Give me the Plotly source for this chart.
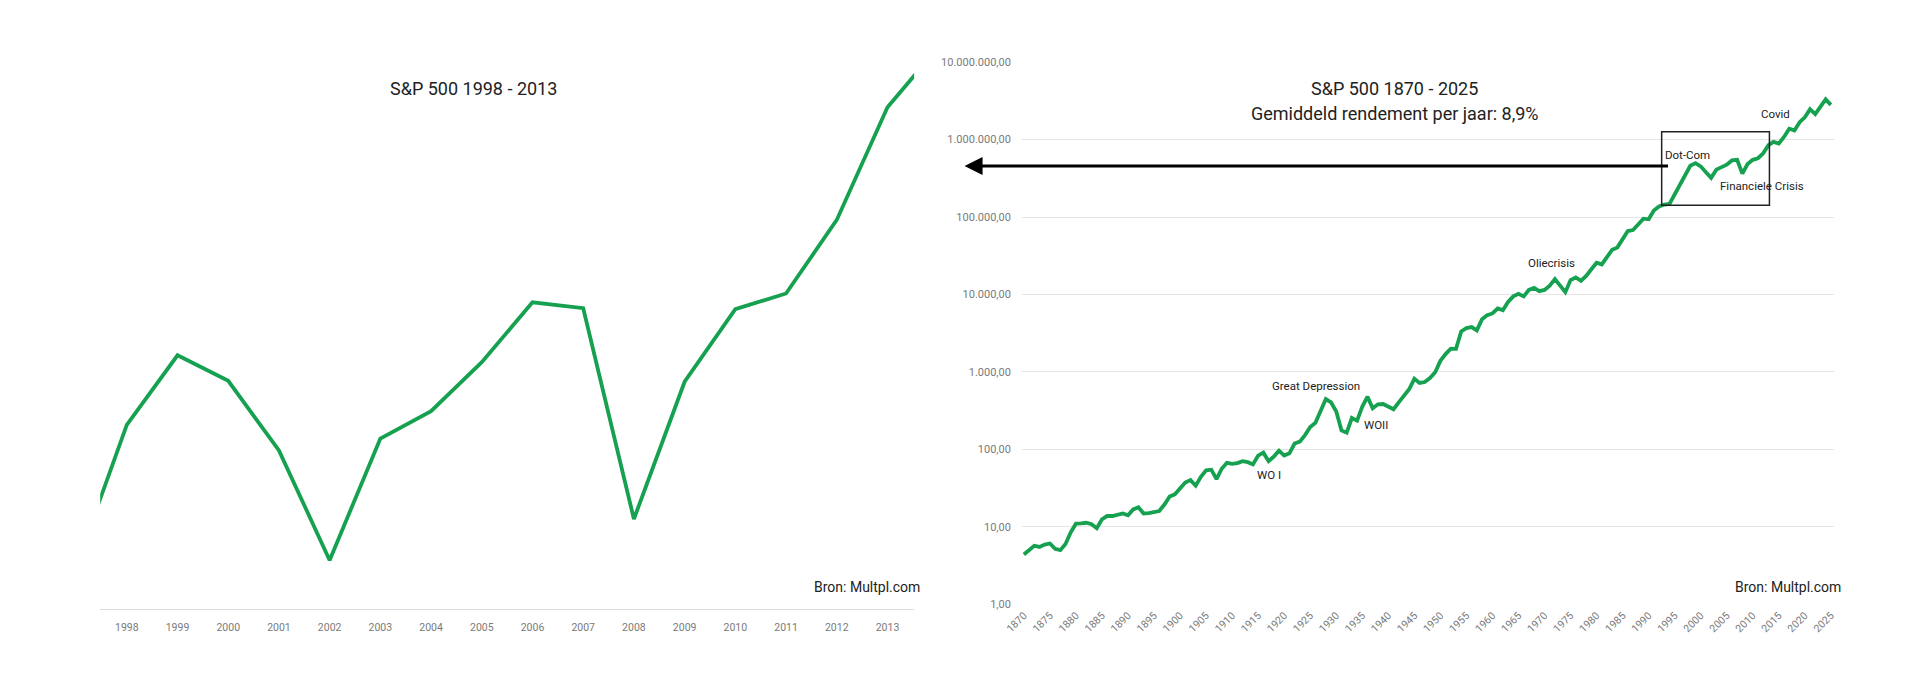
import plotly.graph_objects as go

# --- left chart: S&P 500 1998 - 2013 (no y scale shown, relative units) ---
short_years = list(range(1997, 2015))
short_values = [44, 188, 259, 233, 162, 50, 174, 202, 252, 313,
                307, 92, 232, 306, 322, 397, 512, 573]
short_ticks = list(range(1998, 2014))

# --- right chart: S&P 500 1870 - 2025, log scale ---
long_years = list(range(1870, 2026))
long_values = [
    # 1870 - 1879
    4.4, 5.1, 5.7, 5.5, 5.9, 6.1, 5.2, 5.0, 6.0, 8.5,
    # 1880 - 1889
    11.0, 11.1, 11.3, 10.8, 9.6, 12.5, 13.8, 13.8, 14.2, 14.9,
    # 1890 - 1899
    14.1, 16.8, 17.9, 14.9, 15.0, 15.5, 16.0, 19.4, 24.7, 26.3,
    # 1900 - 1909
    31.4, 37.4, 40.1, 34.0, 44.2, 53.7, 54.7, 41.3, 56.3, 67.1,
    # 1910 - 1919
    65.2, 66.5, 70.5, 68.4, 64.0, 83.2, 90.8, 70.5, 80.8, 96.2,
    # 1920 - 1929
    83.2, 89.0, 119, 126, 153, 195, 220, 309, 446, 405,
    # 1930 - 1939
    309, 176, 164, 254, 235, 357, 478, 340, 382, 385,
    # 1940 - 1949
    357, 330, 405, 492, 597, 815, 720, 740, 832, 991,
    # 1950 - 1959
    1390, 1700, 2000, 1990, 3335, 3675, 3790, 3435, 4780, 5420,
    # 1960 - 1969
    5690, 6590, 6270, 7990, 9440, 10210, 9440, 11460, 12140, 11020,
    # 1970 - 1979
    11460, 13000, 15790, 13000, 10700, 15350, 16560, 15030, 17400, 21150,
    # 1980 - 1989
    25650, 24440, 31170, 37870, 40540, 50700, 65900, 67800, 79930, 95250,
    # 1990 - 1999
    93400, 121600, 136600, 144900, 147600, 197400, 264000, 353300, 459400, 496800,
    # 2000 - 2009
    450800, 378500, 320600, 409000, 442300, 473100, 537500, 547600, 363900, 482700,
    # 2010 - 2019
    547600, 574500, 664800, 847300, 933000, 889000, 1081000, 1377000, 1312000, 1675000,
    # 2020 - 2025
    1937000, 2468000, 2133000, 2719000, 3304000, 2800000,
]
long_ticks = list(range(1870, 2026, 5))
log_tickvals = [1, 10, 100, 1000, 10000, 100000, 1000000, 10000000]
log_ticktext = ["1,00", "10,00", "100,00", "1.000,00", "10.000,00",
                "100.000,00", "1.000.000,00", "10.000.000,00"]

# events written on the long chart: (text, x px, y px)
events = [
    ("WO I", 1265, 478),
    ("Great Depression", 1312, 387),
    ("WOII", 1373, 427),
    ("Oliecrisis", 1551, 262),
    ("Dot-Com", 1688, 152),
    ("Financiele Crisis", 1763, 183),
    ("Covid", 1777, 110),
]
# box around 1992 - 2013 (data units)
box_x = (1992.5, 2013.2)
box_y = (141900, 1260000)

# the page body keeps its default 8px margin, so the figure is made
# 16px smaller and every pixel position is shifted by that margin
PAGE_W, PAGE_H, BODY = 1920, 688, 8
W, H = PAGE_W - 2 * BODY, PAGE_H - 2 * BODY
GREEN = "#16a150"
FONT = "Roboto"
TXT = "#222222"
TICK = "#7a7a7a"


def px(x):
    return (x - BODY) / W


def py(y):
    return 1 - (y - BODY) / H


fig = go.Figure()

fig.add_trace(go.Scatter(
    x=short_years, y=short_values, mode="lines",
    line=dict(color=GREEN, width=3.8), xaxis="x", yaxis="y",
    showlegend=False, hoverinfo="x",
))
fig.add_trace(go.Scatter(
    x=long_years, y=long_values, mode="lines",
    line=dict(color=GREEN, width=3.8), xaxis="x2", yaxis="y2",
    showlegend=False,
))

annotations = [
    dict(text="S&P 500 1998 - 2013", x=px(460), y=py(84), font=dict(size=18)),
    dict(text="S&P 500 1870 - 2025", x=px(1392), y=py(84), font=dict(size=18)),
    dict(text="Gemiddeld rendement per jaar: 8,9%", x=px(1392), y=py(109),
         font=dict(size=18)),
    dict(text="Bron: Multpl.com", x=px(858), y=py(592), font=dict(size=14)),
    dict(text="Bron: Multpl.com", x=px(1790), y=py(592), font=dict(size=14)),
]
for text, ex, ey in events:
    annotations.append(dict(text=text, x=px(ex), y=py(ey), font=dict(size=11.5)))
for a in annotations:
    a.update(xref="paper", yref="paper", showarrow=False,
             xanchor="center", yanchor="middle")
    a["font"].update(family=FONT, color=TXT)

# long black arrow pointing from the box to the left chart
annotations.append(dict(
    xref="paper", yref="paper", x=px(957), y=py(163),
    axref="pixel", ayref="pixel", ax=1662 - 957, ay=0,
    showarrow=True, arrowhead=2, arrowsize=1.2, arrowwidth=3,
    arrowcolor="black", text="",
))

fig.update_layout(
    width=W, height=H, autosize=False,
    margin=dict(l=0, r=0, t=0, b=0),
    paper_bgcolor="white", plot_bgcolor="white",
    font=dict(family=FONT, color=TXT),
    annotations=annotations,
    shapes=[dict(
        type="rect", xref="x2", yref="y2",
        x0=box_x[0], x1=box_x[1], y0=box_y[0], y1=box_y[1],
        line=dict(color="#222222", width=1.5),
    )],
    xaxis=dict(
        domain=[px(83), px(906)],
        range=[1997.475, 2013.525],
        tickvals=short_ticks, showgrid=False, zeroline=False,
        showline=True, linecolor="#dedede", linewidth=1,
        ticks="", ticklabelstandoff=8,
        tickfont=dict(size=10.5, color=TICK, family=FONT),
    ),
    yaxis=dict(
        domain=[py(615), py(15)], range=[0, 600],
        visible=False,
    ),
    xaxis2=dict(
        domain=[px(1015), px(1836)],
        range=[1869.62, 2025.57],
        tickvals=long_ticks, tickangle=-45, showgrid=False, zeroline=False,
        showline=False, ticks="", ticklabelstandoff=2,
        tickfont=dict(size=10.5, color=TICK, family=FONT),
        anchor="y2",
    ),
    yaxis2=dict(
        domain=[py(610), py(57)], type="log", range=[-0.0005, 7.0005],
        tickvals=log_tickvals, ticktext=log_ticktext,
        showgrid=True, gridcolor="#e4e4e4", gridwidth=1,
        zeroline=False, showline=False, ticks="",
        ticklabelstandoff=10,
        tickfont=dict(size=11, color=TICK, family=FONT),
        anchor="x2",
    ),
)

fig.write_html("out.html")
